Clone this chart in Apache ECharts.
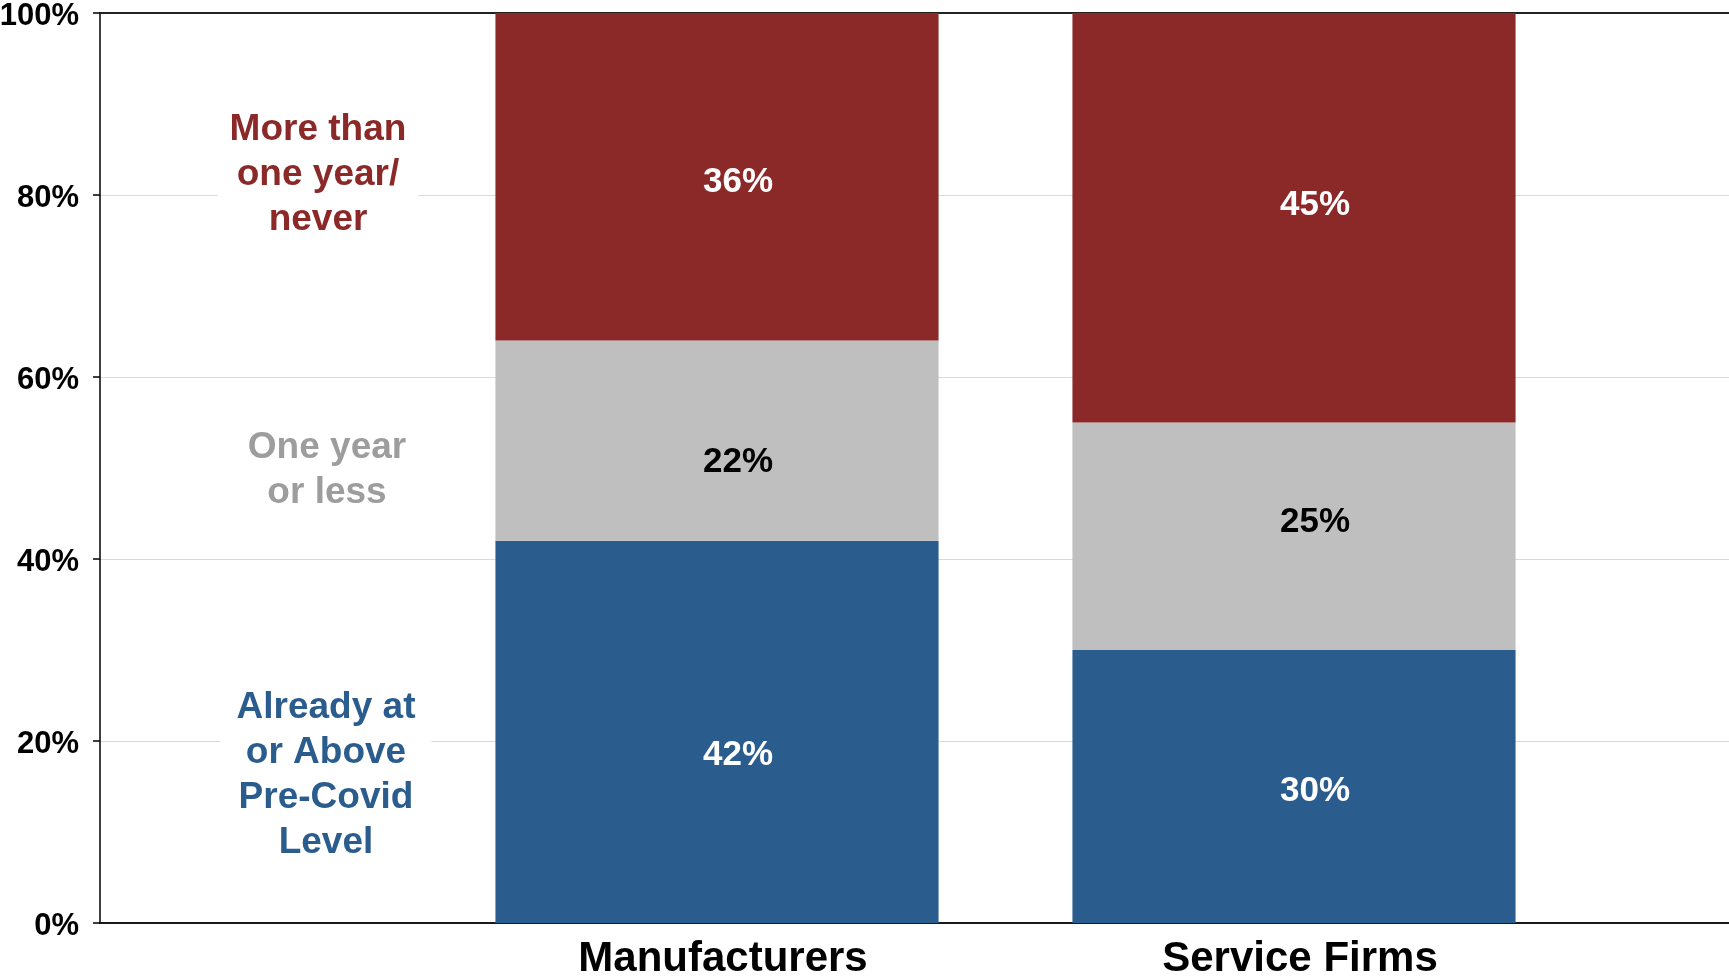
<!DOCTYPE html>
<html>
<head>
<meta charset="utf-8">
<script src="https://cdn.jsdelivr.net/npm/echarts@6/dist/echarts.min.js"></script>
<style>
html,body{margin:0;padding:0;background:#fff;}
#chart{width:1729px;height:977px;}
</style>
</head>
<body>
<div id="chart"></div>
<script>
const categories = ['Manufacturers', 'Service Firms'];
const seriesNames = ['Already at or Above Pre-Covid Level', 'One year or less', 'More than one year/ never'];
const alreadyAbove = [42, 30];
const oneYearOrLess = [22, 25];
const moreThanOneYear = [36, 45];
const yTicks = [0, 20, 40, 60, 80, 100];

const FONT = '"Liberation Sans", Arial, sans-serif';
const RED = '#8B2929', GREY = '#BFBFBF', BLUE = '#2A5C8E';
const TOP = 13, BOTTOM = 54;

// label placement tweaks (style only)
const labelShiftY = {
  0: [23, 5],
  1: [22, -14],
  2: [6, -12]
};

const chart = echarts.init(document.getElementById('chart'));

function barSeries(idx, data, color, labelColor) {
  return {
    name: seriesNames[idx], type: 'bar', stack: 'total',
    data: data.map((v, i) => ({
      value: v,
      label: { offset: [21, labelShiftY[idx][i]] }
    })),
    xAxisIndex: 2, yAxisIndex: 1,
    barWidth: '76.8%',
    itemStyle: { color: color },
    label: {
      show: true, position: 'inside', formatter: '{c}%',
      color: labelColor, fontFamily: FONT, fontWeight: 'bold', fontSize: 35
    },
    silent: true
  };
}

function legendText(text, cx, cy, color, padH) {
  return {
    type: 'text', x: cx, y: cy, z: 100,
    style: {
      text: text, font: 'bold 37px ' + FONT, fill: color,
      align: 'center', verticalAlign: 'middle', lineHeight: 45,
      backgroundColor: '#fff', padding: [0, padH]
    }
  };
}

chart.setOption({
  animation: false,
  grid: [
    { left: 100, right: 0, top: TOP, bottom: BOTTOM, outerBoundsMode: 'none', containLabel: false },
    { left: 428.5, right: 146.5, top: TOP, bottom: BOTTOM, outerBoundsMode: 'none', containLabel: false }
  ],
  xAxis: [
    { gridIndex: 0, type: 'category', data: [''], position: 'bottom',
      axisLine: { show: true, lineStyle: { color: '#1a1a1a', width: 2 } },
      axisTick: { show: false }, axisLabel: { show: false }, splitLine: { show: false } },
    { gridIndex: 0, type: 'category', data: [''], position: 'top',
      axisLine: { show: true, lineStyle: { color: '#222', width: 2 } },
      axisTick: { show: false }, axisLabel: { show: false }, splitLine: { show: false } },
    { gridIndex: 1, type: 'category', data: categories, position: 'bottom',
      axisLine: { show: false }, axisTick: { show: false },
      axisLabel: { color: '#000', fontFamily: FONT, fontWeight: 'bold', fontSize: 42, margin: 15,
        padding: [0, 0, 0, 12] } }
  ],
  yAxis: [
    { gridIndex: 0, type: 'value', min: yTicks[0], max: yTicks[yTicks.length - 1], interval: 20,
      axisLine: { show: true, lineStyle: { color: '#000', width: 1.5 } },
      axisTick: { show: true, length: 7, lineStyle: { color: '#000', width: 1.5 } },
      axisLabel: {
        formatter: v => '{a|' + v + '%}', margin: 21,
        rich: { a: { color: '#000', fontFamily: FONT, fontWeight: 'bold', fontSize: 31, padding: [6, 0, 0, 0] } }
      },
      splitLine: { show: true, lineStyle: { color: '#d9d9d9', width: 1 } } },
    { gridIndex: 1, type: 'value', min: 0, max: 100, show: false, splitLine: { show: false } }
  ],
  series: [
    barSeries(0, alreadyAbove, BLUE, '#fff'),
    barSeries(1, oneYearOrLess, GREY, '#000'),
    barSeries(2, moreThanOneYear, RED, '#fff')
  ],
  graphic: [
    legendText('More than\none year/\nnever', 318, 175, RED, 12),
    legendText('One year\nor less', 327, 470, '#9d9d9d', 12),
    legendText('Already at\nor Above\nPre-Covid\nLevel', 326, 775, BLUE, 16)
  ]
});
</script>
</body>
</html>
